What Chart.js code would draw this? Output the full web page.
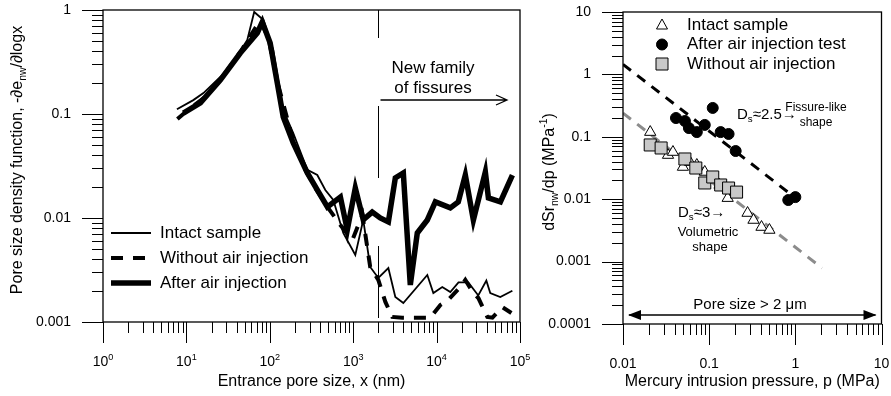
<!DOCTYPE html>
<html>
<head>
<meta charset="utf-8">
<script src="https://cdn.jsdelivr.net/npm/chart.js@4.4.1/dist/chart.umd.min.js"></script>
<style>
html, body { margin: 0; padding: 0; background: #fff; }
#wrap { position: relative; width: 891px; height: 396px; }
#left { position: absolute; left: 0; top: 0; }
#right { position: absolute; left: 535px; top: 0; }
</style>
</head>
<body>
<div id="wrap">
<canvas id="left" width="535" height="396"></canvas>
<canvas id="right" width="356" height="396"></canvas>
</div>
<script>
// left panel: pore size density function vs entrance pore size (nm)
var intactX = [7.7, 12.1, 16, 25.5, 36.5, 53.7, 65, 84, 110, 145, 191, 282, 371, 463, 577, 760, 1060, 1320, 1600, 2000, 2640, 3200, 3990, 7740, 9140, 11700, 14600, 18300, 24000, 31600, 39500, 44000, 58000, 81000];
var intactY = [0.111, 0.136, 0.159, 0.227, 0.316, 0.515, 0.957, 0.80, 0.41, 0.109, 0.0657, 0.029, 0.0259, 0.0186, 0.0149, 0.00718, 0.00441, 0.0096, 0.00338, 0.00265, 0.0033, 0.00174, 0.00152, 0.00283, 0.0019, 0.00217, 0.00194, 0.0024, 0.0024, 0.0018, 0.0025, 0.0019, 0.00174, 0.0020];
var withoutX = [7.8, 11.1, 16.9, 25.5, 44.3, 67, 77, 96, 126, 176, 267, 352, 490, 702, 977, 1290, 1600, 2000, 2430, 2940, 3880, 6040, 8410, 11100, 13800, 19300, 22100, 27600, 31700, 40600, 46700, 61500, 78900];
var withoutY = [0.0895, 0.114, 0.146, 0.212, 0.395, 0.671, 0.80, 0.538, 0.19, 0.070, 0.029, 0.0194, 0.0128, 0.00857, 0.00614, 0.0107, 0.00338, 0.00254, 0.00156, 0.00112, 0.0011, 0.0011, 0.0011, 0.00146, 0.00163, 0.00217, 0.00254, 0.0019, 0.0017, 0.00112, 0.0011, 0.00139, 0.00122];
var afterX = [9.2, 14.7, 25.5, 44.3, 70.8, 81.3, 101, 123, 145, 191, 282, 371, 490, 702, 849, 1060, 1320, 1690, 2110, 2640, 3200, 3990, 4840, 5870, 7740, 9660, 14600, 18200, 22100, 27600, 38400, 41800, 58200, 81100];
var afterY = [0.102, 0.128, 0.212, 0.386, 0.601, 0.767, 0.482, 0.199, 0.0936, 0.0526, 0.0271, 0.0186, 0.0128, 0.0159, 0.00767, 0.0194, 0.0096, 0.0114, 0.0100, 0.00916, 0.0243, 0.0271, 0.00227, 0.00718, 0.00957, 0.0143, 0.0125, 0.0143, 0.0259, 0.00957, 0.0277, 0.0156, 0.0143, 0.0259];

// right panel: dSr/dp vs mercury intrusion pressure (MPa)
var intactP = [0.0207, 0.0333, 0.038, 0.0496, 0.0598, 0.0719, 0.0889, 0.110, 0.132, 0.164, 0.279, 0.327, 0.405, 0.500];
var intactD = [0.119, 0.051, 0.057, 0.0328, 0.0394, 0.0353, 0.0273, 0.0219, 0.0169, 0.0104, 0.0060, 0.00464, 0.00358, 0.00321];
var afterP = [0.0412, 0.0523, 0.0582, 0.0719, 0.0889, 0.110, 0.136, 0.168, 0.203, 0.828, 1.0];
var afterD = [0.200, 0.179, 0.138, 0.119, 0.155, 0.290, 0.119, 0.111, 0.0592, 0.0097, 0.0108];
var withoutP = [0.0207, 0.0277, 0.0523, 0.070, 0.0889, 0.110, 0.136, 0.168, 0.208];
var withoutD = [0.074, 0.0662, 0.0441, 0.0316, 0.0182, 0.0227, 0.0169, 0.0151, 0.0130];
var fissureP = [0.01, 1.1];
var fissureD = [1.45, 0.0095];
var volumeP = [0.01, 2.04];
var volumeD = [0.24, 0.00079];

var leftNames = ['Intact sample', 'Without air injection', 'After air injection'];
var rightNames = ['Intact sample', 'After air injection test', 'Without air injection'];
var fissureX = 2000;

var FONT = '"Liberation Sans", Arial, Helvetica, sans-serif';

function pts(xs, ys) {
  return xs.map(function (x, i) { return { x: x, y: ys[i] }; });
}

function logTicks(min, max) {
  var out = [];
  for (var e = Math.floor(Math.log10(min) + 1e-9); e <= Math.ceil(Math.log10(max) - 1e-9); e++) {
    for (var m = 1; m <= 9; m++) {
      var v = m * Math.pow(10, e);
      if (v >= min * 0.999 && v <= max * 1.001) out.push({ v: v, major: m === 1, e: e });
    }
  }
  return out;
}

function decimal(v) {
  return v >= 1 ? String(Math.round(v)) : v.toFixed(Math.round(-Math.log10(v)));
}

// text made of pieces: [text, 0 normal | 1 subscript | 2 superscript]
function runs(ctx, parts, x, y, size, align) {
  var w = 0;
  parts.forEach(function (p) {
    ctx.font = (p[1] ? size * 0.65 : size) + 'px ' + FONT;
    w += ctx.measureText(p[0]).width;
  });
  var cx = align === 'left' ? x : (align === 'right' ? x - w : x - w / 2);
  ctx.textAlign = 'left';
  ctx.textBaseline = 'middle';
  parts.forEach(function (p) {
    ctx.font = (p[1] ? size * 0.65 : size) + 'px ' + FONT;
    var dy = p[1] === 1 ? size * 0.3 : (p[1] === 2 ? -size * 0.35 : 0);
    ctx.fillText(p[0], cx, y + dy);
    cx += ctx.measureText(p[0]).width;
  });
}

function openArrow(ctx, x1, x2, y) {
  ctx.beginPath();
  ctx.moveTo(x1, y); ctx.lineTo(x2, y);
  ctx.moveTo(x2 - 11, y - 5); ctx.lineTo(x2, y); ctx.lineTo(x2 - 11, y + 5);
  ctx.stroke();
}

function filledHead(ctx, x, y, dir) {
  ctx.beginPath();
  ctx.moveTo(x, y);
  ctx.lineTo(x - dir * 13, y - 5);
  ctx.lineTo(x - dir * 13, y + 5);
  ctx.closePath();
  ctx.fill();
}

function axes(chart, xLabel, yLabel) {
  var ctx = chart.ctx, a = chart.chartArea, xs = chart.scales.x, ys = chart.scales.y;
  ctx.save();
  ctx.strokeStyle = '#000';
  ctx.fillStyle = '#000';
  ctx.lineWidth = 1.3;
  ctx.strokeRect(a.left, a.top, a.right - a.left, a.bottom - a.top);
  ctx.lineWidth = 1;
  ctx.beginPath();
  logTicks(xs.min, xs.max).forEach(function (t) {
    var px = Math.round(xs.getPixelForValue(t.v)) + 0.5;
    ctx.moveTo(px, a.bottom);
    ctx.lineTo(px, a.bottom + (t.major ? 21 : 11));
  });
  logTicks(ys.min, ys.max).forEach(function (t) {
    var py = Math.round(ys.getPixelForValue(t.v)) + 0.5;
    ctx.moveTo(a.left, py);
    ctx.lineTo(a.left - (t.major ? 21 : 11), py);
  });
  ctx.stroke();
  logTicks(xs.min, xs.max).forEach(function (t) {
    if (t.major) xLabel(ctx, xs.getPixelForValue(t.v), a.bottom + 40, t);
  });
  logTicks(ys.min, ys.max).forEach(function (t) {
    if (t.major) yLabel(ctx, a.left - 32, ys.getPixelForValue(t.v), t);
  });
  ctx.restore();
}

var leftDecor = {
  id: 'leftDecor',
  afterDatasetsDraw: function (chart) {
    var ctx = chart.ctx, a = chart.chartArea, xs = chart.scales.x;
    axes(chart,
      function (c, x, y, t) { runs(c, [['10', 0], [String(t.e), 2]], x, y, 14, 'center'); },
      function (c, x, y, t) { runs(c, [[decimal(t.v), 0]], x, y, 14, 'right'); });
    ctx.save();
    ctx.fillStyle = '#000';
    ctx.strokeStyle = '#000';
    runs(ctx, [['Entrance pore size, x (nm)', 0]], (a.left + a.right) / 2, 382, 16, 'center');
    ctx.save();
    ctx.translate(18, 160);
    ctx.rotate(-Math.PI / 2);
    runs(ctx, [['Pore size density function, -\u2202e', 0], ['nw', 1], ['/\u2202logx', 0]], 0, 0, 16, 'center');
    ctx.restore();

    // fissure boundary and arrow
    var fx = Math.round(xs.getPixelForValue(fissureX)) + 0.5;
    ctx.lineWidth = 1;
    ctx.setLineDash([72, 68]);
    ctx.lineDashOffset = 44;
    ctx.beginPath();
    ctx.moveTo(fx, a.top); ctx.lineTo(fx, a.bottom);
    ctx.stroke();
    ctx.setLineDash([]);
    ctx.lineWidth = 1.3;
    openArrow(ctx, fx + 2, a.right - 13, 100);
    runs(ctx, [['New family', 0]], 433, 68, 17, 'center');
    runs(ctx, [['of fissures', 0]], 433, 88, 17, 'center');

    // legend
    chart.data.datasets.forEach(function (ds, i) {
      var y = 233 + i * 25;
      ctx.lineWidth = ds.borderWidth;
      ctx.setLineDash(ds.borderDash || []);
      ctx.lineDashOffset = 0;
      ctx.beginPath();
      ctx.moveTo(a.left + 8, y); ctx.lineTo(a.left + 48, y);
      ctx.stroke();
      ctx.setLineDash([]);
      runs(ctx, [[ds.label, 0]], a.left + 57, y, 17, 'left');
    });
    ctx.restore();
  }
};

function marker(ctx, style, x, y) {
  ctx.lineWidth = 1;
  ctx.strokeStyle = '#000';
  ctx.beginPath();
  if (style === 'triangle') {
    ctx.fillStyle = '#fff';
    ctx.moveTo(x, y - 6); ctx.lineTo(x + 5.5, y + 4); ctx.lineTo(x - 5.5, y + 4); ctx.closePath();
  } else if (style === 'circle') {
    ctx.fillStyle = '#000';
    ctx.arc(x, y, 5.5, 0, Math.PI * 2);
  } else {
    ctx.fillStyle = '#c8c8c8';
    ctx.rect(x - 6, y - 6, 12, 12);
  }
  ctx.fill();
  ctx.stroke();
}

var rightDecor = {
  id: 'rightDecor',
  afterDatasetsDraw: function (chart) {
    var ctx = chart.ctx, a = chart.chartArea;
    axes(chart,
      function (c, x, y, t) { runs(c, [[decimal(t.v), 0]], x, y, 14, 'center'); },
      function (c, x, y, t) { runs(c, [[decimal(t.v), 0]], x, y, 14, 'right'); });
    ctx.save();
    ctx.fillStyle = '#000';
    ctx.strokeStyle = '#000';
    runs(ctx, [['Mercury intrusion pressure, p (MPa)', 0]], (a.left + a.right) / 2, 382, 16, 'center');
    ctx.save();
    ctx.translate(15, 172);
    ctx.rotate(-Math.PI / 2);
    runs(ctx, [['dSr', 0], ['nw', 1], ['/dp (MPa', 0], ['-1', 2], [')', 0]], 0, 0, 16, 'center');
    ctx.restore();

    // legend
    ['triangle', 'circle', 'rect'].forEach(function (s, i) {
      var y = 25 + i * 19.5;
      marker(ctx, s, 127, y);
      ctx.fillStyle = '#000';
      runs(ctx, [[rightNames[i], 0]], 152, y, 17, 'left');
    });

    // annotations
    ctx.fillStyle = '#000';
    runs(ctx, [['D', 0], ['s', 1], ['\u22482.5\u2192', 0]], 202, 115, 15, 'left');
    runs(ctx, [['Fissure-like', 0]], 281, 108, 12, 'center');
    runs(ctx, [['shape', 0]], 281, 123, 12, 'center');
    runs(ctx, [['D', 0], ['s', 1], ['\u22483\u2192', 0]], 143, 213, 15, 'left');
    runs(ctx, [['Volumetric', 0]], 173, 232, 13, 'center');
    runs(ctx, [['shape', 0]], 175, 247, 13, 'center');
    runs(ctx, [['Pore size > 2 \u03bcm', 0]], 215, 305, 15, 'center');
    ctx.lineWidth = 1.3;
    ctx.beginPath();
    ctx.moveTo(a.left + 6, 315); ctx.lineTo(a.right - 6, 315);
    ctx.stroke();
    filledHead(ctx, a.left + 5, 315, -1);
    filledHead(ctx, a.right - 5, 315, 1);
    ctx.restore();
  }
};

new Chart(document.getElementById('left'), {
  type: 'scatter',
  data: {
    datasets: [
      { label: leftNames[0], data: pts(intactX, intactY), showLine: true, borderColor: '#000', borderWidth: 1.8, pointRadius: 0 },
      { label: leftNames[1], data: pts(withoutX, withoutY), showLine: true, borderColor: '#000', borderWidth: 4, borderDash: [12, 10], pointRadius: 0 },
      { label: leftNames[2], data: pts(afterX, afterY), showLine: true, borderColor: '#000', borderWidth: 5.5, pointRadius: 0 }
    ]
  },
  options: {
    responsive: false,
    animation: false,
    layout: { padding: { left: 103, top: 10, right: 15, bottom: 74 } },
    scales: {
      x: { type: 'logarithmic', min: 1, max: 1e5, display: false },
      y: { type: 'logarithmic', min: 0.001, max: 1, display: false }
    },
    plugins: { legend: { display: false }, tooltip: { enabled: false } }
  },
  plugins: [leftDecor]
});

new Chart(document.getElementById('right'), {
  type: 'scatter',
  data: {
    datasets: [
      { label: 'fit fissure', data: pts(fissureP, fissureD), showLine: true, borderColor: '#000', borderWidth: 3, borderDash: [10, 8], pointRadius: 0, order: 5 },
      { label: 'fit volumetric', data: pts(volumeP, volumeD), showLine: true, borderColor: '#8c8c8c', borderWidth: 3, borderDash: [10, 8], pointRadius: 0, order: 5 },
      { label: rightNames[0], data: pts(intactP, intactD), pointStyle: 'triangle', pointRadius: 6.5, backgroundColor: '#fff', borderColor: '#000', borderWidth: 1, order: 3 },
      { label: rightNames[2], data: pts(withoutP, withoutD), pointStyle: 'rect', pointRadius: 8.5, backgroundColor: '#c8c8c8', borderColor: '#000', borderWidth: 1, order: 2 },
      { label: rightNames[1], data: pts(afterP, afterD), pointStyle: 'circle', pointRadius: 5.5, backgroundColor: '#000', borderColor: '#000', borderWidth: 1, order: 1 }
    ]
  },
  options: {
    responsive: false,
    animation: false,
    layout: { padding: { left: 88, top: 12, right: 8, bottom: 72 } },
    scales: {
      x: { type: 'logarithmic', min: 0.01, max: 10, display: false },
      y: { type: 'logarithmic', min: 0.0001, max: 10, display: false }
    },
    plugins: { legend: { display: false }, tooltip: { enabled: false } }
  },
  plugins: [rightDecor]
});
</script>
</body>
</html>
